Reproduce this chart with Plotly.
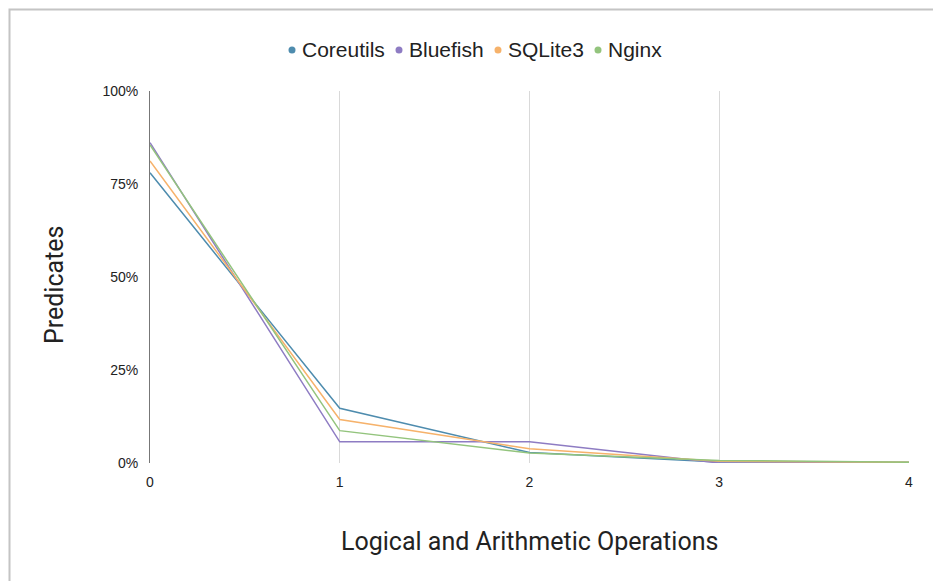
import plotly.graph_objects as go

x_ops = [0, 1, 2, 3, 4]
series_names = ["Coreutils", "Bluefish", "SQLite3", "Nginx"]
coreutils = [0.78, 0.147, 0.028, 0.003, 0.002]
bluefish = [0.861, 0.057, 0.057, 0.0, 0.001]
sqlite3 = [0.812, 0.117, 0.038, 0.005, 0.002]
nginx = [0.855, 0.087, 0.027, 0.007, 0.002]
colors = ["#4e8cae", "#8e7cc3", "#f6b26b", "#93c47d"]
y_ticks = [0, 0.25, 0.5, 0.75, 1.0]
y_tick_labels = ["0%", "25%", "50%", "75%", "100%"]

# layout geometry (pixels)
W, H = 933, 581
L, R, T, B = 150, 24, 91, 118
PW, PH = W - L - R, H - T - B


def px_x(p):
    return (p - L) / PW


def px_y(p):
    return (H - B - p) / PH


fig = go.Figure()
for name, vals, col in zip(series_names, [coreutils, bluefish, sqlite3, nginx], colors):
    fig.add_trace(go.Scatter(x=x_ops, y=vals, mode="lines", name=name,
                             line=dict(color=col, width=1.5)))

# custom legend (dot + label), centred above the plot like the reference
legend_dot_px = [292, 399, 498, 598]
legend_y_px = 50
annotations = []
shapes = []
for name, col, dx in zip(series_names, colors, legend_dot_px):
    shapes.append(dict(type="circle", xref="paper", yref="paper",
                       xsizemode="pixel", ysizemode="pixel",
                       xanchor=px_x(dx), yanchor=px_y(legend_y_px),
                       x0=-3.5, x1=3.5, y0=-3.5, y1=3.5,
                       fillcolor=col, line=dict(width=0)))
    annotations.append(dict(text=name, xref="paper", yref="paper",
                            x=px_x(dx + 8), y=px_y(legend_y_px - 1),
                            xanchor="left", yanchor="middle", showarrow=False,
                            font=dict(size=21, family="Liberation Sans, Arial", color="#222")))

annotations += [
    dict(text="Logical and Arithmetic Operations", xref="paper", yref="paper",
         x=0.5, y=px_y(541), xanchor="center", yanchor="middle", showarrow=False,
         font=dict(size=25, family="Roboto", color="#222")),
    dict(text="Predicates", xref="paper", yref="paper", x=px_x(54), y=px_y(285),
         xanchor="center", yanchor="middle", textangle=-90, showarrow=False,
         font=dict(size=25, family="Roboto", color="#222")),
]

shapes.append(dict(type="rect", xref="paper", yref="paper", x0=px_x(9.5), x1=px_x(1100),
                   y0=px_y(800), y1=px_y(9.5), line=dict(color="#c4c4c4", width=2),
                   fillcolor="rgba(0,0,0,0)", layer="below"))

fig.update_layout(
    width=W, height=H,
    margin=dict(l=L, r=R, t=T, b=B, autoexpand=False),
    paper_bgcolor="white", plot_bgcolor="white",
    showlegend=False,
    font=dict(family="Liberation Sans, Arial", color="#222"),
    xaxis=dict(range=[0, 4], tickvals=x_ops, ticktext=[str(v) for v in x_ops],
               showgrid=True, gridcolor="#d9d9d9", gridwidth=1, zeroline=False,
               showline=False, ticks="", ticklabelstandoff=9,
               tickfont=dict(size=14, color="#222")),
    yaxis=dict(range=[0, 1], tickvals=y_ticks, ticktext=y_tick_labels,
               showgrid=False, zeroline=False, showline=True, linecolor="#777", linewidth=1,
               ticks="", ticklabelstandoff=8, tickfont=dict(size=14, color="#222")),
    annotations=annotations,
    shapes=shapes,
)

fig.write_html("out.html")
